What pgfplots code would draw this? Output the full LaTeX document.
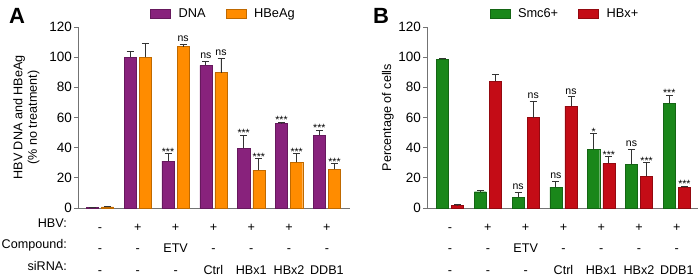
\documentclass[border=0pt]{standalone}
\usepackage{fontspec}
\setmainfont{Liberation Sans}
\usepackage{pgfplots}
\pgfplotsset{compat=1.18}
\definecolor{cPur}{RGB}{136,34,124}
\definecolor{cOra}{RGB}{255,140,0}
\definecolor{cGre}{RGB}{26,135,26}
\definecolor{cRed}{RGB}{196,12,22}
\pgfplotsset{
  myaxis/.style={
    scale only axis, width=272pt, height=181pt,
    ymin=0, ymax=120, ytick={0,20,...,120},
    axis lines=left, axis line style={-, black!55, line width=0.9pt},
    tick align=outside, major tick length=4pt,
    y tick style={black!55, line width=0.9pt},
    x tick style={draw=none},
    /pgf/number format/assume math mode=true,
    yticklabel style={font=\fontsize{13.5}{15}\selectfont, inner sep=2pt},
    xtick={0,...,6},
    xticklabels={{\strut-\\-\\-},{\strut+\\-\\-},{\strut+\\ETV\\-},{\strut+\\-\\Ctrl},{\strut+\\-\\HBx1},{\strut+\\-\\HBx2},{\strut+\\-\\DDB1}},
    xticklabel style={align=center, font=\fontsize{12.6}{21.5}\selectfont, inner sep=0pt, anchor=north, yshift=-4pt},
    ylabel style={font=\fontsize{12.6}{14.5}\selectfont, align=center, anchor=center},
    legend style={draw=none, fill=none, font=\fontsize{12.8}{14}\selectfont, legend columns=2, anchor=center,
      /tikz/every even column/.append style={column sep=18pt},
      /tikz/every odd column/.append style={column sep=6pt}},
    legend cell align=left,
    clip=false,
  },
  mybar/.style={ybar, bar shift=0pt, bar width=0.32, fill=#1, draw=#1!75!black, line width=0.4pt,
    error bars/y dir=plus, error bars/y explicit,
    error bars/error bar style={line width=0.8pt, black!80},
    error bars/error mark options={rotate=90, mark size=3.5pt, line width=0.8pt, black!80},
    legend image code/.code={\draw[fill=#1, draw=#1!75!black, line width=0.4pt] (0pt,-4.5pt) rectangle (20pt,4.5pt);}},
  signs/.style={draw=none, mark=none, forget plot, nodes near coords, point meta=explicit symbolic,
    nodes near coords style={font=\fontsize{10.5}{12}\selectfont, anchor=south, inner sep=0pt, yshift=2.5pt}},
  sigst/.style={draw=none, mark=none, forget plot, nodes near coords, point meta=explicit symbolic,
    nodes near coords style={font=\fontsize{10.5}{12}\selectfont, anchor=south, inner sep=0pt, yshift=-2pt}},
}
\begin{document}
\begin{tikzpicture}[x=1pt,y=1pt]
\useasboundingbox (0,0) rectangle (700,277);
\node[anchor=center, font=\bfseries\fontsize{22}{24}\selectfont] at (17,261) {A};
\node[anchor=center, font=\bfseries\fontsize{22}{24}\selectfont] at (381,261) {B};

% Panel A
\begin{axis}[myaxis, at={(78pt,69pt)}, anchor=south west,
  xmin=-0.58, xmax=6.61,
  ylabel={HBV DNA and HBeAg\\(\% no treatment)},
  ylabel style={at={(axis description cs:-0.19,0.5)}},
  legend style={at={(axis description cs:0.535,1.072)}}]
\addplot[mybar=cPur] table[x=x, y=y, y error=e] {
x y e
-0.2 0.3 0
0.8 100 4.1
1.8 31.1 5.1
2.8 94.6 2.7
3.8 39.5 8.8
4.8 56 0.9
5.8 48.3 3.3
};
\addlegendentry{DNA}
\addplot[mybar=cOra] table[x=x, y=y, y error=e] {
x y e
0.2 0.8 0.3
1.2 100 9
2.2 107 1.7
3.2 89.8 9.2
4.2 25.1 7.8
5.2 30.2 6
6.2 25.6 4
};
\addlegendentry{HBeAg}
\addplot[sigst] coordinates {(1.8,36.2) [***] (3.8,48.3) [***] (4.2,32.9) [***] (4.8,56.9) [***] (5.2,36.2) [***] (5.8,51.6) [***] (6.2,29.6) [***]};
\addplot[signs] coordinates {(2.2,108.7) [ns] (2.8,97.3) [ns] (3.2,99) [ns]};
\node[anchor=north east, align=right, font=\fontsize{12.6}{21.5}\selectfont, inner sep=0pt, xshift=-11pt, yshift=-4pt] at (axis description cs:0,0) {\strut HBV:\\Compound:\\siRNA:};
\end{axis}

% Panel B
\begin{axis}[myaxis, at={(427pt,69pt)}, anchor=south west, width=271pt,
  xmin=-0.61, xmax=6.56,
  ylabel={Percentage of cells},
  ylabel style={at={(axis description cs:-0.144,0.5)}},
  legend style={at={(axis description cs:0.509,1.072)}}]
\addplot[mybar=cGre] table[x=x, y=y, y error=e] {
x y e
-0.2 98.6 0.6
0.8 10.8 0.6
1.8 7.1 3
2.8 13.9 3.5
3.8 38.8 10.6
4.8 29.1 9.9
5.8 69.5 5.3
};
\addlegendentry{Smc6+}
\addplot[mybar=cRed] table[x=x, y=y, y error=e] {
x y e
0.2 1.8 0.5
1.2 84 4.7
2.2 60 10.8
3.2 67.5 6.2
4.2 29.6 4.4
5.2 21.2 8.8
6.2 13.7 0.9
};
\addlegendentry{HBx+}
\addplot[sigst] coordinates {(3.8,49.4) [*] (4.2,34) [***] (5.2,30) [***] (5.8,74.8) [***] (6.2,14.6) [***]};
\addplot[signs] coordinates {(1.8,10.1) [ns] (2.2,70.8) [ns] (2.8,17.4) [ns] (3.2,73.7) [ns] (4.8,39) [ns]};
\end{axis}
\end{tikzpicture}
\end{document}
